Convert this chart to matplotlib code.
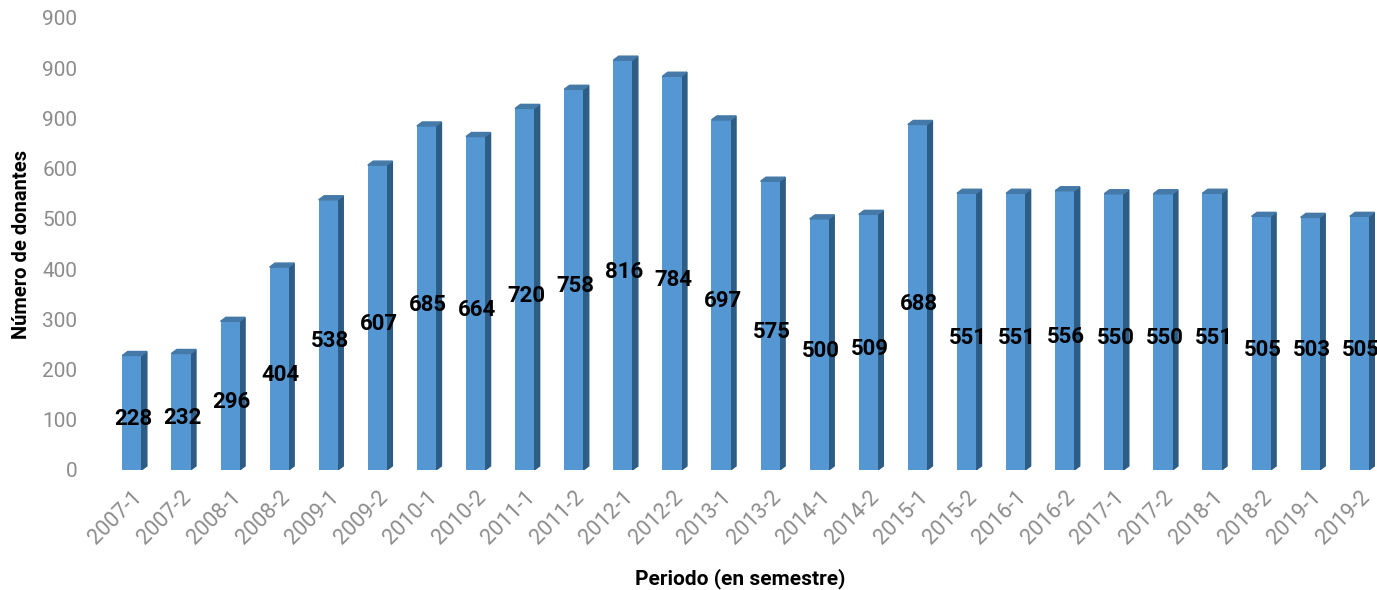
import matplotlib.pyplot as plt
from matplotlib.patches import Polygon

periodos = ['2007-1', '2007-2', '2008-1', '2008-2', '2009-1', '2009-2',
            '2010-1', '2010-2', '2011-1', '2011-2', '2012-1', '2012-2',
            '2013-1', '2013-2', '2014-1', '2014-2', '2015-1', '2015-2',
            '2016-1', '2016-2', '2017-1', '2017-2', '2018-1', '2018-2',
            '2019-1', '2019-2']
donantes = [228, 232, 296, 404, 538, 607, 685, 664, 720, 758, 816, 784,
            697, 575, 500, 509, 688, 551, 551, 556, 550, 550, 551, 505,
            503, 505]
yticks = [0, 100, 200, 300, 400, 500, 600, 700, 800, 900]
ytick_labels = ['0', '100', '200', '300', '400', '500', '600', '900', '900', '900']

front = '#5497d3'
side = '#2d5c84'
top = '#4479a8'
gray = '#8c8c8c'

plt.rcParams['font.family'] = ['Roboto', 'DejaVu Sans']

fig = plt.figure(figsize=(13.77, 5.9), dpi=100)
ax = fig.add_axes([0.0744, 0.2034, 0.9256, 0.7661])

n = len(donantes)
xs = list(range(n))
w = 0.39
dx = 0.11
dy = 8

ax.bar(xs, donantes, width=w, color=front, zorder=2)
for x, v in zip(xs, donantes):
    x0 = x - w / 2
    x1 = x + w / 2
    # 3D look: dark side face and top face
    ax.add_patch(Polygon([[x1, 0], [x1 + dx, dy], [x1 + dx, v + dy], [x1, v]],
                         closed=True, color=side, zorder=1))
    ax.add_patch(Polygon([[x0, v], [x1, v], [x1 + dx, v + dy], [x0 + dx, v + dy]],
                         closed=True, color=top, zorder=3))
    ax.text(x + 0.03, v / 2 - 13, str(v), ha='center', va='center',
            fontsize=16, fontweight='bold', color='black', zorder=4)

ax.set_xlim(-0.6, 25.36)
ax.set_ylim(0, 900)
ax.set_xticks(xs)
ax.set_xticklabels(periodos, rotation=45, ha='right', rotation_mode='anchor',
                   fontsize=15.5, color=gray)
ax.set_yticks(yticks)
ax.set_yticklabels(ytick_labels, fontsize=15, color=gray)
ax.tick_params(axis='y', length=0, pad=18)
ax.tick_params(axis='x', length=0, pad=12)
for s in ax.spines.values():
    s.set_visible(False)

ax.set_xlabel('Periodo (en semestre)', fontsize=15, fontweight='bold', labelpad=14)
ax.set_ylabel('Número de donantes', fontsize=14.5, fontweight='bold', labelpad=8)

fig.savefig('out.png', dpi=100)
